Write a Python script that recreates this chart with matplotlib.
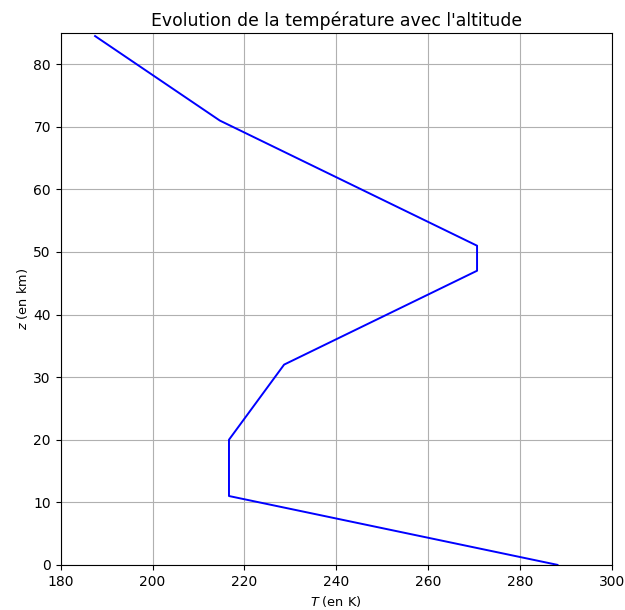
import matplotlib
matplotlib.use("Agg")
import matplotlib.pyplot as plt

altitude_km = [0, 11, 20, 32, 47, 51, 71, 84.5]
temperature_K = [288.15, 216.65, 216.65, 228.65, 270.65, 270.65, 214.65, 187.5]

fig = plt.figure(figsize=(6.25, 6.1), dpi=100)
ax = fig.add_axes([0.097, 0.074, 0.882, 0.872])
ax.plot(temperature_K, altitude_km, color="b", linewidth=1.4)
ax.set_xlim(180, 300)
ax.set_ylim(0, 85)
ax.set_xticks([180, 200, 220, 240, 260, 280, 300])
ax.set_yticks([0, 10, 20, 30, 40, 50, 60, 70, 80])
ax.grid(True)
ax.set_xlabel(r"$T$ (en K)", fontsize=9.3)
ax.set_ylabel(r"$z$ (en km)", fontsize=9.3, labelpad=2)
ax.set_title("Evolution de la température avec l'altitude", fontsize=12.4, pad=5)
ax.tick_params(labelsize=10)
fig.savefig("out.png", dpi=100)
